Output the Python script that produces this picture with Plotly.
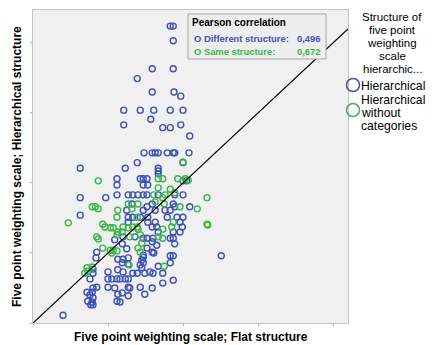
import plotly.graph_objects as go

# ---- data ----
blue_x = [1.83,1.87,1.87,1.59,1.87,1.39,1.59,1.88,1.97,1.21,1.43,1.61,1.83,2.00,1.57,1.21,1.73,1.83,1.97,2.09,
          1.48,1.59,1.63,1.67,1.79,1.87,1.89,2.08,0.63,1.23,1.39,1.67,2.00,1.67,1.67,0.63,0.97,0.63,0.85,2.00,2.05,
          1.12,1.43,1.47,1.52,1.12,1.47,1.53,1.12,1.27,1.33,1.40,1.47,1.52,1.67,1.89,2.00,1.32,1.59,1.87,1.89,2.09,1.52,
          1.25,1.47,1.63,1.76,1.83,1.27,1.33,1.43,1.53,1.79,1.92,2.00,1.27,1.53,1.63,1.96,1.59,1.65,1.99,1.67,1.87,1.96,
          1.20,1.36,1.19,1.25,1.09,1.47,1.52,1.60,1.83,1.87,1.59,1.65,1.89,1.52,1.59,1.61,
          0.84,1.13,1.20,1.27,1.19,1.27,1.47,0.80,0.80,1.00,1.13,1.20,1.33,1.39,1.43,0.76,1.00,1.05,1.12,1.16,1.23,1.27,
          1.43,0.80,0.85,1.00,1.09,1.27,1.29,0.72,0.76,0.79,1.13,1.19,1.27,0.73,0.79,0.80,1.12,1.16,0.77,0.80,0.40,
          1.47,1.83,1.87,2.51,1.45,1.47,1.83,1.67,1.45,1.49,1.56,1.60,1.73,1.87,1.73,1.59,1.49]
blue_y = [4.24,4.24,4.03,3.63,3.63,3.49,3.30,3.30,3.24,3.04,3.04,3.04,3.04,3.04,2.91,2.83,2.79,2.79,2.83,2.67,
          2.43,2.43,2.43,2.43,2.43,2.43,2.43,2.43,2.21,2.21,2.29,2.21,2.29,2.17,2.13,1.79,1.79,1.54,1.01,2.03,2.03,
          2.06,2.06,2.06,2.06,1.97,1.97,1.97,1.83,1.83,1.83,1.83,1.83,1.83,1.83,1.83,1.83,1.70,1.70,1.70,1.66,1.66,1.66,
          1.61,1.61,1.61,1.61,1.61,1.51,1.51,1.51,1.51,1.51,1.51,1.51,1.44,1.44,1.44,1.44,1.37,1.37,1.37,1.30,1.30,1.30,
          1.23,1.23,1.13,1.06,1.19,1.21,1.21,1.21,1.21,1.21,1.16,1.11,1.13,1.07,1.01,1.00,
          0.93,0.91,0.91,0.93,0.86,0.84,0.94,0.77,0.71,0.73,0.76,0.73,0.71,0.71,0.83,0.63,0.63,0.63,0.63,0.63,0.63,0.63,
          0.51,0.50,0.51,0.51,0.50,0.51,0.50,0.44,0.40,0.44,0.41,0.43,0.39,0.31,0.30,0.36,0.31,0.30,0.26,0.26,0.11,
          0.97,0.96,0.96,0.96,0.90,0.86,0.86,0.81,0.79,0.71,0.73,0.71,0.71,0.61,0.57,0.50,0.41]

green_x = [2.00,0.87,0.79,0.83,0.87,0.47,0.93,2.32,2.19,2.32,0.96,1.03,1.07,0.85,0.87,0.93,1.03,1.05,1.07,1.12,
           1.28,0.72,0.73,0.79,0.69,1.43,1.40,1.73,2.33,1.67,1.73,1.45,1.75,
           1.67,1.73,1.93,2.03,1.67,1.83,1.61,1.76,1.27,1.40,1.75,1.63,1.96,1.13,1.12,1.39,1.87,1.20,1.33,1.39,1.40,
           1.85,1.13,1.19,1.29,1.89,1.73,1.27,1.43,1.12,1.32,2.07]
green_y = [2.30,2.03,1.66,1.66,1.63,1.43,1.41,1.79,1.63,1.41,1.37,1.36,1.36,1.23,1.20,1.07,1.04,1.00,1.04,1.03,
           0.83,0.79,0.74,0.80,0.71,1.01,1.07,1.34,1.40,1.23,1.21,1.14,0.81,
           2.06,2.06,2.06,2.06,1.93,1.91,1.83,1.83,1.70,1.70,1.70,1.73,1.66,1.61,1.51,1.51,1.44,1.37,1.37,1.37,1.34,
           1.37,1.30,1.30,1.23,1.86,1.79,1.36,1.26,1.26,1.63,2.04]

series_names = ["Hierarchical", "Hierarchical without categories"]
corr_labels = ["Different structure:", "Same structure:"]
corr_values = ["0,496", "0,672"]
tick_vals = [0, 1, 2, 3, 4]
x_max, y_max = 4.2, 4.47

BLUE = "#3f51b5"
GREEN = "#3cb54a"
FONT = "Liberation Sans, Arial, sans-serif"

W, H = 434, 345
L, R, T, B = 33, 348, 10, 323

def px(xp):
    return (xp - L) / (R - L)

def py(yp):
    return (B - yp) / (B - T)

fig = go.Figure()
fig.add_trace(go.Scatter(x=blue_x, y=blue_y, mode="markers", name=series_names[0],
                         marker=dict(symbol="circle-open", size=6, color=BLUE, line=dict(width=1.4, color=BLUE)),
                         showlegend=False))
fig.add_trace(go.Scatter(x=green_x, y=green_y, mode="markers", name=series_names[1],
                         marker=dict(symbol="circle-open", size=6, color=GREEN, line=dict(width=1.4, color=GREEN)),
                         showlegend=False))
fig.add_trace(go.Scatter(x=[0, x_max], y=[0, x_max], mode="lines",
                         line=dict(color="black", width=1.2), showlegend=False, hoverinfo="skip"))

shapes = []
annotations = []

# correlation box
shapes.append(dict(type="rect", xref="paper", yref="paper", x0=px(188), x1=px(326), y0=py(59), y1=py(14),
                   line=dict(color="#a8a8a8", width=1), fillcolor="#eeeeee", layer="above"))
annotations.append(dict(xref="paper", yref="paper", x=px(190), y=py(22), xanchor="left", yanchor="middle",
                        text="<b>Pearson correlation</b>", showarrow=False,
                        font=dict(family=FONT, size=10, color="black")))
for i, (lab, val, col) in enumerate(zip(corr_labels, corr_values, [BLUE, GREEN])):
    yy = py(38 + i * 14)
    annotations.append(dict(xref="paper", yref="paper", x=px(192), y=yy, xanchor="left", yanchor="middle",
                            text="<b>O " + lab + "</b>", showarrow=False,
                            font=dict(family=FONT, size=9.4, color=col)))
    annotations.append(dict(xref="paper", yref="paper", x=px(322), y=yy, xanchor="right", yanchor="middle",
                            text="<b>" + val + "</b>", showarrow=False,
                            font=dict(family=FONT, size=9.4, color=col)))

# right legend
title_lines = ["Structure of", "five point", "weighting", "scale", "hierarchic..."]
for i, t in enumerate(title_lines):
    annotations.append(dict(xref="paper", yref="paper", x=px(392), y=py(17 + i * 13), xanchor="center",
                            yanchor="middle", text=t, showarrow=False,
                            font=dict(family=FONT, size=11.5, color="black")))
leg_text = [[series_names[0]], ["Hierarchical", "without", "categories"]]
leg_y = [[86], [100, 113, 126]]
circ_y = [85, 110]
for k, col in enumerate([BLUE, GREEN]):
    shapes.append(dict(type="circle", xref="paper", yref="paper",
                       x0=px(346.5), x1=px(359.5), y0=py(circ_y[k] + 6.5), y1=py(circ_y[k] - 6.5),
                       line=dict(color=col, width=1.5)))
    for t, yy in zip(leg_text[k], leg_y[k]):
        annotations.append(dict(xref="paper", yref="paper", x=px(359), y=py(yy), xanchor="left",
                                yanchor="middle", text=t, showarrow=False,
                                font=dict(family=FONT, size=12.2, color="black")))

# axis titles
annotations.append(dict(xref="paper", yref="paper", x=px(191), y=py(337), xanchor="center", yanchor="middle",
                        text="<b>Five point weighting scale; Flat structure</b>", showarrow=False,
                        font=dict(family=FONT, size=12, color="black")))
annotations.append(dict(xref="paper", yref="paper", x=px(17), y=py(167), xanchor="center", yanchor="middle",
                        text="<b>Five point weighting scale; Hierarchical structure</b>", showarrow=False,
                        textangle=-90, font=dict(family=FONT, size=12, color="black")))

fig.update_layout(
    width=W, height=H,
    margin=dict(l=L, r=W - R, t=T, b=H - B, pad=0),
    paper_bgcolor="white", plot_bgcolor="#f0f0f0",
    shapes=shapes, annotations=annotations,
    xaxis=dict(range=[0, x_max], tickvals=tick_vals, showticklabels=False, ticks="outside", ticklen=2,
               tickcolor="#b0b0b0", showgrid=False, zeroline=False, showline=True, linecolor="#c4c4c4",
               linewidth=1, mirror=True),
    yaxis=dict(range=[0, y_max], tickvals=tick_vals, showticklabels=False, ticks="outside", ticklen=2,
               tickcolor="#b0b0b0", showgrid=False, zeroline=False, showline=True, linecolor="#c4c4c4",
               linewidth=1, mirror=True),
)

fig.write_html("out.html", config={"displayModeBar": False},
               post_script="document.body.style.margin='0px';document.body.style.overflow='hidden';")
